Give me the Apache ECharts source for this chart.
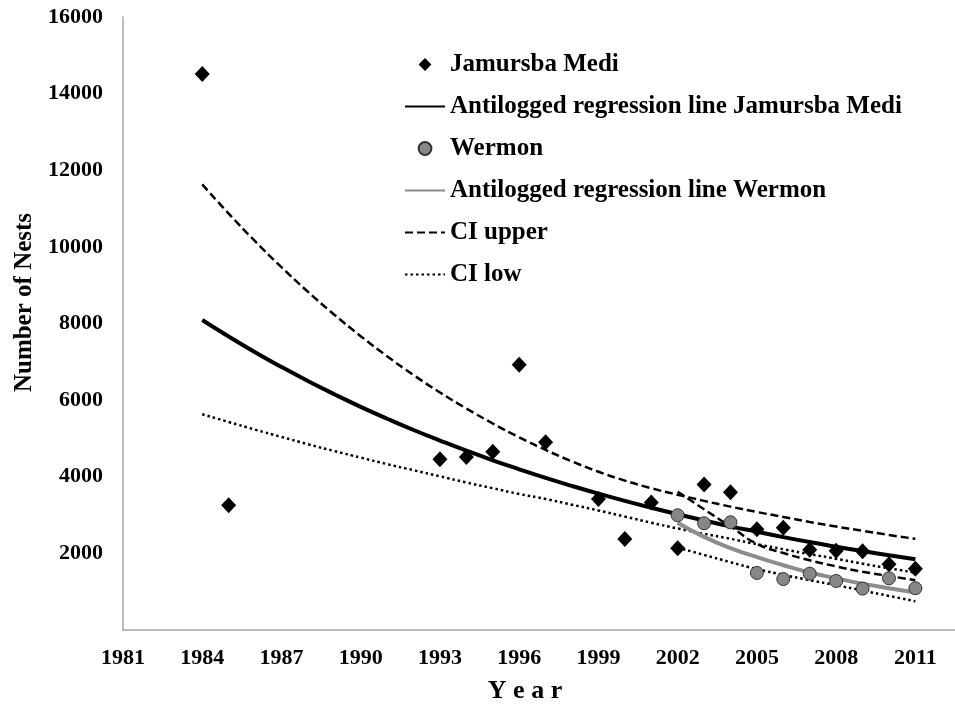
<!DOCTYPE html>
<html>
<head>
<meta charset="utf-8">
<script src="https://cdn.jsdelivr.net/npm/echarts@6/dist/echarts.min.js"></script>
<style>
  html, body { margin: 0; padding: 0; background: #fff; }
  #chart { width: 955px; height: 704px; }
</style>
</head>
<body>
<div id="chart"></div>
<script>
// observed nest counts
const yearsJM = [1984, 1985, 1993, 1994, 1995, 1996, 1997, 1999, 2000, 2001, 2002, 2003, 2004, 2005, 2006, 2007, 2008, 2009, 2010, 2011];
const nestsJM = [14510, 3255, 4456, 4516, 4654, 6925, 4900, 3420, 2375, 3330, 2135, 3795, 3595, 2630, 2670, 2095, 2070, 2055, 1715, 1600];
const yearsWM = [2002, 2003, 2004, 2005, 2006, 2007, 2008, 2009, 2010, 2011];
const nestsWM = [2995, 2785, 2810, 1490, 1330, 1470, 1280, 1080, 1350, 1090];

// regression lines and confidence bands
const lineYearsJM = [1984, 1985, 1986, 1987, 1988, 1989, 1990, 1991, 1992, 1993, 1994, 1995, 1996, 1997,
  1998, 1999, 2000, 2001, 2002, 2003, 2004, 2005, 2006, 2007, 2008, 2009, 2010, 2011];
const fitJM = [8090, 7660, 7250, 6865, 6500, 6155, 5825, 5515, 5220, 4945, 4680, 4430, 4195, 3970,
  3760, 3560, 3370, 3190, 3020, 2860, 2705, 2565, 2425, 2295, 2175, 2060, 1950, 1845];
const ciUpperJM = [11630, 10870, 10150, 9470, 8830, 8230, 7670, 7145, 6655, 6200, 5780, 5390, 5030, 4700,
  4400, 4130, 3900, 3700, 3530, 3370, 3220, 3080, 2950, 2820, 2700, 2590, 2480, 2380];
const ciLowJM = [5630, 5430, 5230, 5040, 4850, 4670, 4500, 4330, 4170, 4010, 3850, 3700, 3550, 3420,
  3270, 3120, 2960, 2800, 2650, 2510, 2380, 2240, 2110, 1980, 1860, 1730, 1610, 1500];

const lineYearsWM = [2002, 2003, 2004, 2005, 2006, 2007, 2008, 2009, 2010, 2011];
const fitWM = [2800, 2430, 2140, 1900, 1690, 1500, 1350, 1210, 1090, 980];
const ciUpperWM = [3610, 3150, 2700, 2250, 2010, 1820, 1660, 1520, 1410, 1300];
const ciLowWM = [2150, 1960, 1770, 1590, 1440, 1300, 1170, 1030, 890, 750];

const pair = (xs, ys) => xs.map((x, i) => [x, ys[i]]);

const FONT = '"Liberation Serif", "Times New Roman", serif';
const dashed = { color: '#000', width: 2.5, type: [8, 4] };
const dotted = { color: '#000', width: 2.5, type: [2.5, 3] };
// keeps the legend icon a plain line for the curves
const noMarker = { color: '#000', opacity: 0 };

const chart = echarts.init(document.getElementById('chart'));

chart.setOption({
  backgroundColor: '#fff',
  animation: false,
  grid: { left: 123, right: 0, top: 17, bottom: 74, containLabel: false, outerBoundsMode: 'none' },
  legend: {
    orient: 'vertical',
    left: 399,
    top: 47,
    itemWidth: 40,
    itemHeight: 16,
    itemGap: 17,
    textStyle: { fontFamily: FONT, fontWeight: 'bold', fontSize: 25, color: '#000' },
    data: ['Jamursba Medi', 'Antilogged regression line Jamursba Medi', 'Wermon',
      'Antilogged regression line Wermon', 'CI upper', 'CI low']
  },
  xAxis: {
    type: 'value',
    min: 1981,
    max: 2012.5,
    interval: 3,
    name: 'Y e a r',
    nameLocation: 'middle',
    nameGap: 48,
    nameTextStyle: { fontFamily: FONT, fontWeight: 'bold', fontSize: 26, color: '#000', padding: [0, 28, 0, 0] },
    axisLine: { lineStyle: { color: '#a6a6a6', width: 1.5 } },
    axisTick: { show: false },
    splitLine: { show: false },
    axisLabel: {
      fontFamily: FONT, fontWeight: 'bold', fontSize: 22, color: '#000', margin: 17, showMaxLabel: false,
      formatter: v => String(v)
    }
  },
  yAxis: {
    type: 'value',
    min: 0,
    max: 16000,
    interval: 2000,
    name: 'Number of Nests',
    nameLocation: 'middle',
    nameGap: 86,
    nameTextStyle: { fontFamily: FONT, fontWeight: 'bold', fontSize: 25, color: '#000', padding: [0, 0, 0, 42] },
    axisLine: { show: true, lineStyle: { color: '#a6a6a6', width: 1.5 } },
    axisTick: { show: false },
    splitLine: { show: false },
    axisLabel: {
      fontFamily: FONT, fontWeight: 'bold', fontSize: 22, color: '#000', margin: 20, showMinLabel: false,
      formatter: v => String(v)
    }
  },
  series: [
    {
      name: 'CI upper', type: 'line', smooth: true, symbol: 'none',
      lineStyle: dashed, itemStyle: noMarker, data: pair(lineYearsJM, ciUpperJM)
    },
    {
      name: 'CI low', type: 'line', smooth: true, symbol: 'none',
      lineStyle: dotted, itemStyle: noMarker, data: pair(lineYearsJM, ciLowJM)
    },
    {
      name: 'CI upper', type: 'line', smooth: true, symbol: 'none',
      lineStyle: dashed, itemStyle: noMarker, data: pair(lineYearsWM, ciUpperWM)
    },
    {
      name: 'CI low', type: 'line', smooth: true, symbol: 'none',
      lineStyle: dotted, itemStyle: noMarker, data: pair(lineYearsWM, ciLowWM)
    },
    {
      name: 'Antilogged regression line Jamursba Medi', type: 'line', smooth: true, symbol: 'none',
      lineStyle: { color: '#000', width: 4 }, itemStyle: noMarker,
      data: pair(lineYearsJM, fitJM)
    },
    {
      name: 'Antilogged regression line Wermon', type: 'line', smooth: true, symbol: 'none',
      lineStyle: { color: '#8c8c8c', width: 4 }, itemStyle: { color: '#8c8c8c', opacity: 0 },
      data: pair(lineYearsWM, fitWM)
    },
    {
      // markers only, line hidden
      name: 'Jamursba Medi', type: 'line', symbol: 'diamond', symbolSize: [15, 16],
      showAllSymbol: true,
      lineStyle: { opacity: 0 },
      itemStyle: { color: '#000', borderWidth: 0 },
      z: 5,
      data: pair(yearsJM, nestsJM)
    },
    {
      name: 'Wermon', type: 'line', symbol: 'circle', symbolSize: 13,
      showAllSymbol: true,
      lineStyle: { opacity: 0 },
      itemStyle: { color: '#878787', borderColor: '#333', borderWidth: 1 },
      z: 5,
      data: pair(yearsWM, nestsWM)
    }
  ]
});
</script>
</body>
</html>
